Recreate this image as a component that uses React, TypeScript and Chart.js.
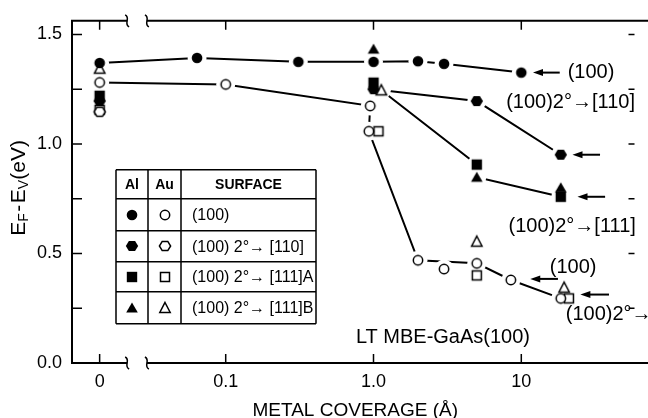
import React, { useEffect, useRef } from "react";
import { Chart, registerables } from "chart.js";
Chart.register(...registerables);

const FONT = "'Liberation Sans', Arial, sans-serif";

// ---- axes ----
const xTickValues = [0, 0.1, 1, 10];
const xTickLabels = ["0", "0.1", "1.0", "10"];
const yTickValues = [0, 0.25, 0.5, 0.75, 1.0, 1.25, 1.5];
const yTickLabels = ["0.0", "", "0.5", "", "1.0", "", "1.5"];
const xTitle = "METAL COVERAGE (Å)";
const yTitleParts: [string, boolean][] = [["E", false], ["F", true], ["-", false], ["E", false], ["V", true], ["(eV)", false]];

// log axis (decades) with a broken segment standing in for zero coverage
const ZERO_U = -1.853;
const X_MIN_U = -2.04;
const X_MAX_U = 1.793;
const BREAK_U = [-1.667, -1.533];
const Y_MIN = 0;
const Y_MAX = 1.5625;

// ---- data: Al (filled symbols) ----
const alCircleX = [0, 0.064, 0.31, 1.0, 2.0, 3.0, 10];
const alCircleY = [1.37, 1.393, 1.375, 1.375, 1.378, 1.366, 1.326];
const alHexX = [0, 1.0, 5, 18.5];
const alHexY = [1.196, 1.25, 1.196, 0.951];
const alSquareX = [0, 1.0, 5, 18.5];
const alSquareY = [1.22, 1.28, 0.906, 0.759];
const alTriX = [1.0, 5, 18.5];
const alTriY = [1.433, 0.848, 0.8];

// ---- data: Au (open symbols) ----
const auCircleX = [0, 0.1, 0.95, 0.93, 2, 3, 5, 8.5, 18.5];
const auCircleY = [1.281, 1.272, 1.174, 1.058, 0.469, 0.429, 0.455, 0.379, 0.295];
const auHexX = [0];
const auHexY = [1.147];
const auSquareX = [0, 1.08, 5, 21];
const auSquareY = [1.156, 1.058, 0.4, 0.295];
const auTriX = [0, 1.13, 5, 19.5];
const auTriY = [1.344, 1.245, 0.554, 0.344];

// ---- connecting curves ----
const lineAuX = [0, 0.1, 0.95, 0.93, 2, 5, 8.5, 18.5];
const lineAuY = [1.281, 1.272, 1.174, 1.058, 0.469, 0.455, 0.379, 0.295];
const lineHexX = [1.0, 5, 18.5];
const lineHexY = [1.25, 1.196, 0.951];
const line111X = [1.13, 5, 5, 18.5];
const line111Y = [1.245, 0.906, 0.848, 0.759];

// ---- annotations (coverage, energy) ----
const arrowTipX = [12.0, 22.2, 24.0, 11.5, 25.1];
const arrowTailX = [18.2, 34.1, 36.9, 17.7, 39.2];
const arrowY = [1.326, 0.951, 0.759, 0.384, 0.3125];
const noteText = ["(100)", "(100)2°→[110]", "(100)2°→[111]", "(100)", "(100)2°→[111]", "LT MBE-GaAs(100)"];
const noteX = [20.6, 7.9, 8.2, 15.6, 20.0, 0.76];
const noteY = [1.326, 1.1875, 0.625, 0.4375, 0.223, 0.116];

// ---- legend table ----
const legendHeaders = ["Al", "Au", "SURFACE"];
const legendShapes = ["circle", "hexagon", "square", "triangle"];
const legendLabels = ["(100)", "(100) 2°→ [110]", "(100) 2°→ [111]A", "(100) 2°→ [111]B"];

const toU = (c: number) => (c === 0 ? ZERO_U : Math.log10(c));

function makeMarker(shape: string, filled: boolean): HTMLCanvasElement {
  const c = document.createElement("canvas");
  c.width = 16;
  c.height = 16;
  const g = c.getContext("2d")!;
  g.translate(8, 8);
  g.beginPath();
  if (shape === "circle") {
    g.arc(0, 0, filled ? 5.3 : 4.7, 0, Math.PI * 2);
  } else if (shape === "hexagon") {
    const r = filled ? 6.2 : 5.6;
    for (let i = 0; i < 6; i++) {
      const a = (i * Math.PI) / 3;
      const px = r * Math.cos(a);
      const py = r * Math.sin(a) * 0.95;
      if (i === 0) g.moveTo(px, py);
      else g.lineTo(px, py);
    }
    g.closePath();
  } else if (shape === "square") {
    const h = filled ? 5.2 : 4.5;
    g.rect(-h, -h, 2 * h, 2 * h);
  } else {
    const w = filled ? 5.8 : 5.2;
    g.moveTo(0, -5.5);
    g.lineTo(w, 4.5);
    g.lineTo(-w, 4.5);
    g.closePath();
  }
  if (filled) {
    g.fillStyle = "#000";
    g.fill();
  } else {
    g.fillStyle = "#fff";
    g.fill();
    g.lineWidth = 1.5;
    g.strokeStyle = "#000";
    g.stroke();
  }
  return c;
}

const pts = (xs: number[], ys: number[]) => xs.map((x, i) => ({ x: toU(x), y: ys[i] }));

export default function App() {
  const ref = useRef<HTMLCanvasElement>(null);

  useEffect(() => {
    document.body.style.margin = "0";
    const canvas = ref.current!;

    const markerSets = [
      { xs: alCircleX, ys: alCircleY, shape: "circle", filled: true },
      { xs: alHexX, ys: alHexY, shape: "hexagon", filled: true },
      { xs: alSquareX, ys: alSquareY, shape: "square", filled: true },
      { xs: alTriX, ys: alTriY, shape: "triangle", filled: true },
      { xs: auCircleX, ys: auCircleY, shape: "circle", filled: false },
      { xs: auHexX, ys: auHexY, shape: "hexagon", filled: false },
      { xs: auSquareX, ys: auSquareY, shape: "square", filled: false },
      { xs: auTriX, ys: auTriY, shape: "triangle", filled: false },
    ];
    const lineSets = [
      { xs: alCircleX, ys: alCircleY },
      { xs: lineAuX, ys: lineAuY },
      { xs: lineHexX, ys: lineHexY },
      { xs: line111X, ys: line111Y },
    ];

    const markerCache: Record<string, HTMLCanvasElement> = {};
    const marker = (s: string, f: boolean) => {
      const k = s + (f ? "F" : "O");
      if (!markerCache[k]) markerCache[k] = makeMarker(s, f);
      return markerCache[k];
    };

    const datasets: any[] = [];
    lineSets.forEach((l) =>
      datasets.push({
        data: pts(l.xs, l.ys),
        showLine: true,
        borderColor: "#000",
        borderWidth: 2,
        pointRadius: 0,
        order: 2,
      })
    );
    markerSets.forEach((m) =>
      datasets.push({
        data: pts(m.xs, m.ys),
        showLine: false,
        pointStyle: "circle",
        pointRadius: 9.5,
        pointBackgroundColor: "#fff",
        pointBorderWidth: 0,
        pointBorderColor: "#fff",
        order: 1,
      })
    );
    markerSets.forEach((m) =>
      datasets.push({
        data: pts(m.xs, m.ys),
        showLine: false,
        pointStyle: marker(m.shape, m.filled),
        pointRadius: 6,
        order: 0,
      })
    );

    const decor = {
      id: "decor",
      afterDraw(chart: any) {
        const ctx: CanvasRenderingContext2D = chart.ctx;
        const xs = chart.scales.x;
        const ys = chart.scales.y;
        const { left, right, top, bottom } = chart.chartArea;
        const W = chart.width;
        const X = (c: number) => xs.getPixelForValue(toU(c));
        const Y = (v: number) => ys.getPixelForValue(v);
        ctx.save();
        ctx.strokeStyle = "#000";
        ctx.fillStyle = "#000";

        // frame with axis breaks
        const b1 = xs.getPixelForValue(BREAK_U[0]);
        const b2 = xs.getPixelForValue(BREAK_U[1]);
        ctx.lineWidth = 2;
        ctx.beginPath();
        ctx.moveTo(left, top - 1);
        ctx.lineTo(left, bottom + 1);
        for (const yy of [top, bottom]) {
          ctx.moveTo(left - 1, yy);
          ctx.lineTo(b1, yy);
          ctx.moveTo(b2, yy);
          ctx.lineTo(W, yy);
        }
        ctx.stroke();
        ctx.lineWidth = 1.5;
        for (const yy of [top, bottom])
          for (const bx of [b1, b2]) {
            ctx.beginPath();
            ctx.moveTo(bx - 2, yy - 6);
            ctx.bezierCurveTo(bx + 4, yy - 3, bx - 4, yy + 3, bx + 2, yy + 6);
            ctx.stroke();
          }

        // inward ticks
        ctx.lineWidth = 1.5;
        ctx.beginPath();
        for (const v of xTickValues) {
          const px = X(v);
          ctx.moveTo(px, bottom);
          ctx.lineTo(px, bottom - 9);
          ctx.moveTo(px, top);
          ctx.lineTo(px, top + 9);
        }
        for (const v of yTickValues) {
          const py = Y(v);
          ctx.moveTo(left, py);
          ctx.lineTo(left + 10, py);
          ctx.moveTo(right - 10, py);
          ctx.lineTo(right - 4, py);
        }
        ctx.stroke();

        // y title with subscripts
        ctx.save();
        ctx.translate(19, (top + bottom) / 2 - 4);
        ctx.rotate(-Math.PI / 2);
        const mainFont = `21px ${FONT}`;
        const subFont = `14px ${FONT}`;
        let total = 0;
        for (const [t, sub] of yTitleParts) {
          ctx.font = sub ? subFont : mainFont;
          total += ctx.measureText(t).width + (t === "-" ? 3 : 0);
        }
        let cx = -total / 2;
        ctx.textBaseline = "middle";
        ctx.textAlign = "left";
        for (const [t, sub] of yTitleParts) {
          ctx.font = sub ? subFont : mainFont;
          const pad = t === "-" ? 1.5 : 0;
          ctx.fillText(t, cx + pad, sub ? 5 : 0);
          cx += ctx.measureText(t).width + pad * 2;
        }
        ctx.restore();

        // legend table
        const tx = left + 44;
        const ty = top + 149;
        const colW = [32, 33, 135];
        const rowH = [29, 32, 31, 30, 32];
        const colX = [tx];
        colW.forEach((w) => colX.push(colX[colX.length - 1] + w));
        const rowY = [ty];
        rowH.forEach((h) => rowY.push(rowY[rowY.length - 1] + h));
        ctx.fillStyle = "#fff";
        ctx.fillRect(colX[0], rowY[0], colX[3] - colX[0], rowY[5] - rowY[0]);
        ctx.fillStyle = "#000";
        ctx.lineWidth = 1.5;
        ctx.beginPath();
        for (const x of colX) {
          ctx.moveTo(x, rowY[0]);
          ctx.lineTo(x, rowY[5]);
        }
        for (const y of rowY) {
          ctx.moveTo(colX[0], y);
          ctx.lineTo(colX[3], y);
        }
        ctx.stroke();
        ctx.textBaseline = "middle";
        ctx.textAlign = "center";
        ctx.font = `bold 14px ${FONT}`;
        legendHeaders.forEach((h, i) => {
          ctx.fillText(h, (colX[i] + colX[i + 1]) / 2, (rowY[0] + rowY[1]) / 2 + 1);
        });
        ctx.font = `16px ${FONT}`;
        ctx.textAlign = "left";
        legendShapes.forEach((s, i) => {
          const cy = (rowY[i + 1] + rowY[i + 2]) / 2;
          const mf = marker(s, true);
          const mo = marker(s, false);
          ctx.drawImage(mf, Math.round((colX[0] + colX[1]) / 2 - 8), Math.round(cy - 8));
          ctx.drawImage(mo, Math.round((colX[1] + colX[2]) / 2 - 8), Math.round(cy - 8));
          ctx.fillText(legendLabels[i], colX[2] + 11, cy + 1);
        });

        // arrows
        ctx.lineWidth = 2;
        arrowTipX.forEach((tip, i) => {
          const xt = X(tip);
          const xb = X(arrowTailX[i]);
          const y = Y(arrowY[i]);
          ctx.beginPath();
          ctx.moveTo(xb, y);
          ctx.lineTo(xt + 7, y);
          ctx.stroke();
          ctx.beginPath();
          ctx.moveTo(xt, y);
          ctx.lineTo(xt + 10, y - 3.5);
          ctx.lineTo(xt + 10, y + 3.5);
          ctx.closePath();
          ctx.fill();
        });

        // notes
        ctx.font = `20px ${FONT}`;
        ctx.textAlign = "left";
        ctx.textBaseline = "middle";
        noteText.forEach((t, i) => {
          ctx.fillText(t, X(noteX[i]), Y(noteY[i]));
        });
        ctx.restore();
      },
    };

    const chart = new Chart(canvas, {
      type: "scatter",
      data: { datasets },
      plugins: [decor],
      options: {
        animation: false,
        responsive: false,
        events: [],
        layout: { padding: { top: 13, right: 1, left: 0, bottom: 0 } },
        plugins: { legend: { display: false }, tooltip: { enabled: false } },
        scales: {
          x: {
            type: "linear",
            min: X_MIN_U,
            max: X_MAX_U,
            grid: { display: false, drawTicks: false },
            border: { display: false },
            afterBuildTicks: (s: any) => {
              s.ticks = xTickValues.map((v) => ({ value: toU(v) }));
            },
            afterFit: (s: any) => {
              s.height = 55;
            },
            ticks: {
              autoSkip: false,
              maxRotation: 0,
              padding: 8,
              color: "#000",
              font: { family: FONT, size: 18 },
              callback: (_v: any, i: number) => xTickLabels[i],
            },
            title: {
              display: true,
              text: xTitle,
              color: "#000",
              padding: { top: 0, bottom: 0 },
              font: { family: FONT, size: 19, lineHeight: 0.8 },
            },
          },
          y: {
            type: "linear",
            min: Y_MIN,
            max: Y_MAX,
            grid: { display: false, drawTicks: false },
            border: { display: false },
            afterBuildTicks: (s: any) => {
              s.ticks = yTickValues.map((v) => ({ value: v }));
            },
            afterFit: (s: any) => {
              s.width = 72;
            },
            ticks: {
              autoSkip: false,
              padding: 10,
              color: "#000",
              font: { family: FONT, size: 18 },
              callback: (_v: any, i: number) => yTickLabels[i],
            },
          },
        },
      },
    });
    return () => chart.destroy();
  }, []);

  return (
    <div style={{ width: 648, height: 418 }}>
      <canvas ref={ref} width={648} height={418} style={{ display: "block" }} />
    </div>
  );
}
